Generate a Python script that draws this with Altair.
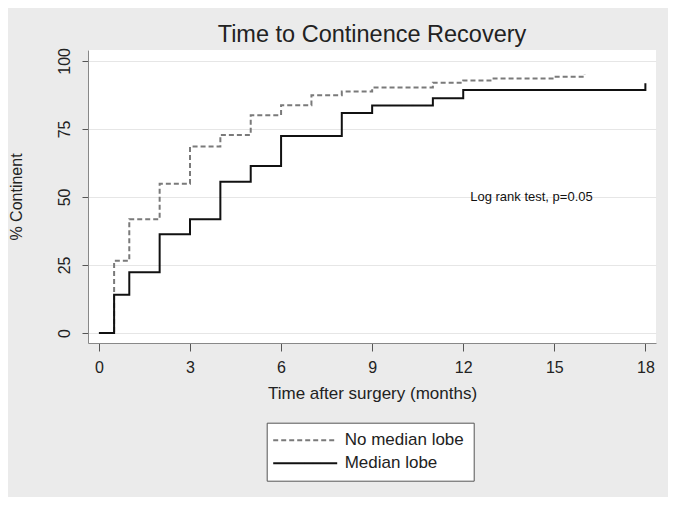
import altair as alt
import pandas as pd

# Kaplan-Meier style step data (months, % continent)
no_ml_t = [0, 0.5, 1, 2, 3, 4, 5, 6, 7, 8, 9, 11, 12, 13, 15, 16]
no_ml_p = [0, 26.5, 41.8, 54.8, 68.5, 72.8, 80.0, 83.7, 87.4, 88.7, 90.2, 92.0, 92.8, 93.5, 94.2, 95.0]
ml_t = [0, 0.5, 1, 2, 3, 4, 5, 6, 8, 9, 11, 12, 18]
ml_p = [0, 14.0, 22.3, 36.3, 41.8, 55.6, 61.4, 72.4, 80.8, 83.6, 86.3, 89.3, 91.8]
groups = ["No median lobe", "Median lobe"]
x_ticks = [0, 3, 6, 9, 12, 15, 18]
y_ticks = [0, 25, 50, 75, 100]
annot_text = ["Log rank test, p=0.05"]
annot_x = [12.23]
annot_y = [50]

rows = [{"t": t, "p": p, "g": groups[0]} for t, p in zip(no_ml_t, no_ml_p)]
rows += [{"t": t, "p": p, "g": groups[1]} for t, p in zip(ml_t, ml_p)]
df = pd.DataFrame(rows)
ann = pd.DataFrame({"x": annot_x, "y": annot_y, "label": annot_text})

FONT = "Liberation Sans"
xs = alt.Scale(domain=[-0.36, 18.35], nice=False, zero=False)
ys = alt.Scale(domain=[-3.7, 104.0], nice=False, zero=False)

leg = alt.Legend(
    title=None, orient="none", legendX=178.7, legendY=372.7,
    direction="vertical", symbolType="M-8,0H8", symbolSize=64,
    symbolStrokeWidth=2, symbolOffset=21, labelFontSize=17, labelFont=FONT,
    labelColor="#222", padding=9, rowPadding=5, labelOffset=31,
    strokeColor="#555", fillColor="white", cornerRadius=0,
)

lines = alt.Chart(df).mark_line(interpolate="step-after", strokeWidth=2).encode(
    x=alt.X("t:Q", scale=xs, axis=alt.Axis(
        values=x_ticks, title="Time after surgery (months)", grid=False,
        tickSize=8, labelPadding=8, labelFontSize=16, titleFontSize=17,
        titlePadding=10, labelFont=FONT, titleFont=FONT, titleFontWeight="normal",
        domainColor="#888", tickColor="#555", labelColor="#222", titleColor="#222")),
    y=alt.Y("p:Q", scale=ys, axis=alt.Axis(
        values=y_ticks, title="% Continent", grid=True, gridColor="#E6E6E6",
        tickSize=6, labelPadding=10, labelAngle=270, labelAlign="center",
        labelBaseline="bottom", labelFontSize=16, titleFontSize=16,
        labelFont=FONT, titleFont=FONT, titleFontWeight="normal",
        titleX=-72, titleY=146.5, titleBaseline="middle", titleAngle=270,
        domainColor="#888", tickColor="#555", labelColor="#222", titleColor="#222")),
    color=alt.Color("g:N", scale=alt.Scale(domain=groups, range=["#7a7a7a", "#111111"]), legend=leg),
    strokeDash=alt.StrokeDash("g:N", scale=alt.Scale(domain=groups, range=[[5, 3], [1, 0]]), legend=leg),
)

text = alt.Chart(ann).mark_text(align="left", baseline="middle", fontSize=13, font=FONT, color="#111").encode(
    x=alt.X("x:Q", scale=xs), y=alt.Y("y:Q", scale=ys), text="label:N")

chart = alt.layer(lines, text).properties(
    width=568, height=293,
    autosize=alt.AutoSizeParams(type="none"),
    padding={"left": 80, "top": 42, "right": 12, "bottom": 154},
    background="#EBEBEB",
    title=alt.Title("Time to Continence Recovery", fontSize=23.5, font=FONT,
                    fontWeight="normal", color="#222", anchor="middle", offset=1),
).configure_view(fill="white", stroke=None)

chart.save("out.html", embed_options={"renderer": "svg", "actions": False})
